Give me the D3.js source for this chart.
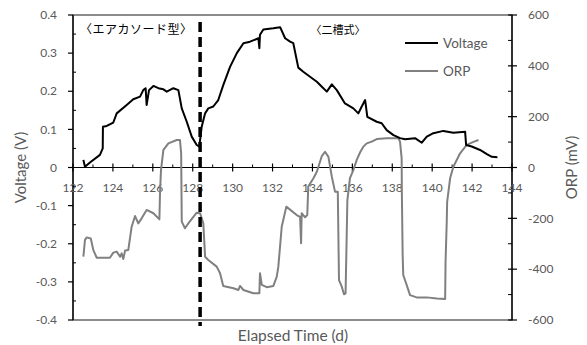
<!DOCTYPE html>
<html>
<head>
<meta charset="utf-8">
<script src="https://cdn.jsdelivr.net/npm/d3@7"></script>
<style>
  html, body { margin: 0; padding: 0; background: #fff; }
  svg { display: block; }
  text { font-family: Lato, "Open Sans", sans-serif; fill: #595959; }
  .jp { font-family: "Noto Sans CJK JP", sans-serif; fill: #000; }
</style>
</head>
<body>
<svg id="chart" width="587" height="345"></svg>
<script>
// Elapsed time (days) and cell voltage (V)
const voltageDays = [122.52, 122.60, 122.85, 123.35, 123.49, 123.50, 123.69, 124.02, 124.19, 124.69,
  125.02, 125.36, 125.52, 125.64, 125.69, 125.81, 126.03, 126.28, 126.53, 126.70,
  127.03, 127.28, 127.45, 127.70, 127.95, 128.20, 128.33, 128.45, 128.62, 128.78,
  129.03, 129.28, 129.53, 129.87, 130.21, 130.54, 130.87, 131.29, 131.34, 131.37,
  131.54, 132.04, 132.38, 132.63, 132.88, 133.04, 133.29, 133.54, 134.22, 134.47,
  134.72, 134.97, 135.22, 135.63, 136.05, 136.30, 136.47, 136.64, 136.75, 137.22,
  137.47, 137.72, 138.06, 138.39, 138.64, 139.14, 139.48, 139.73, 140.06, 140.56,
  141.06, 141.65, 141.70, 141.98, 142.40, 142.74, 142.99, 143.27];
const voltageValues = [0.020, 0.002, 0.013, 0.033, 0.050, 0.107, 0.109, 0.118, 0.142, 0.164,
  0.179, 0.186, 0.203, 0.208, 0.164, 0.203, 0.214, 0.208, 0.205, 0.199,
  0.208, 0.203, 0.155, 0.120, 0.081, 0.059, 0.055, 0.107, 0.142, 0.155,
  0.160, 0.177, 0.216, 0.264, 0.300, 0.326, 0.330, 0.339, 0.313, 0.348,
  0.362, 0.365, 0.368, 0.339, 0.330, 0.326, 0.262, 0.251, 0.225, 0.212,
  0.199, 0.218, 0.203, 0.168, 0.155, 0.142, 0.160, 0.177, 0.133, 0.120,
  0.116, 0.098, 0.085, 0.077, 0.074, 0.077, 0.065, 0.081, 0.090, 0.096,
  0.091, 0.094, 0.059, 0.055, 0.046, 0.035, 0.028, 0.027];

// Elapsed time (days) and oxidation-reduction potential (mV)
const orpDays = [122.52, 122.60, 122.69, 122.89, 123.02, 123.19, 123.85, 124.02, 124.19, 124.36,
  124.44, 124.52, 124.61, 124.77, 124.94, 125.11, 125.27, 125.44, 125.69, 126.03,
  126.33, 126.36, 126.41, 126.53, 126.78, 127.20, 127.36, 127.42, 127.45, 127.61,
  127.78, 128.20, 128.37, 128.53, 128.62, 128.78, 129.20, 129.37, 129.53, 130.04,
  130.29, 130.37, 130.54, 131.04, 131.34, 131.37, 131.46, 131.71, 132.04, 132.21,
  132.29, 132.46, 132.69, 133.21, 133.38, 133.43, 133.46, 133.63, 133.74, 133.79,
  134.05, 134.22, 134.47, 134.63, 134.80, 134.97, 135.13, 135.27, 135.33, 135.47,
  135.58, 135.66, 135.75, 135.88, 136.05, 136.22, 136.39, 136.55, 136.72, 136.97,
  137.22, 137.72, 138.31, 138.39, 138.47, 138.48, 138.52, 138.55, 138.72, 138.89,
  139.22, 139.73, 140.23, 140.65, 140.67, 140.73, 140.75, 140.90, 141.06, 141.40,
  141.73, 142.07, 142.32];
const orpValues = [-351, -285, -275, -279, -325, -355, -355, -335, -331, -351,
  -338, -360, -327, -325, -233, -191, -220, -200, -167, -180,
  -204, -101, -10, 69, 95, 108, 108, 56, -213, -239,
  -220, -178, -180, -220, -351, -364, -390, -416, -466, -475,
  -482, -466, -482, -495, -495, -416, -462, -471, -466, -430,
  -390, -233, -154, -187, -194, -298, -180, -196, -187, -75,
  -42, -17, 45, 62, 42, -36, -95, -95, -443, -469,
  -499, -495, -128, -42, -10, 30, 60, 82, 95, 102,
  112, 115, 115, 101, 36, -95, -344, -423, -462, -502,
  -511, -511, -515, -517, -371, -213, -135, -42, 3, 56,
  89, 101, 108];

// Day separating the two reactor configurations
const dividerDay = 128.37;
const phaseLabels = ["〈エアカソード型〉", "〈二槽式〉"];
const phaseStartDays = [122.35, 133.9];
const phaseLabelSizes = [12, 11];

// Axis ticks
const xTicks = [122, 124, 126, 128, 130, 132, 134, 136, 138, 140, 142, 144];
const xMinorTicks = d3.range(123, 144, 2);
const voltageTicks = [0.4, 0.3, 0.2, 0.1, 0, -0.1, -0.2, -0.3, -0.4];
const voltageMinorTicks = [0.35, 0.25, 0.15, 0.05, -0.05, -0.15, -0.25, -0.35];
const orpTicks = [600, 400, 200, 0, -200, -400, -600];
const orpMinorTicks = [500, 300, 100, -100, -300, -500];

const seriesNames = ["Voltage", "ORP"];
const seriesColors = ["#000000", "#808080"];

const svg = d3.select("#chart");
const plot = { left: 73, right: 512, top: 15, bottom: 320 };

const x = d3.scaleLinear().domain([122, 144]).range([plot.left, plot.right]);
const yV = d3.scaleLinear().domain([-0.4, 0.4]).range([plot.bottom, plot.top]);
const yO = d3.scaleLinear().domain([-600, 600]).range([plot.bottom, plot.top]);

// Plot frame
svg.append("rect")
  .attr("x", plot.left).attr("y", plot.top)
  .attr("width", plot.right - plot.left).attr("height", plot.bottom - plot.top)
  .attr("fill", "none").attr("stroke", "#404040").attr("stroke-width", 1.2);

// Left (voltage) axis
const leftAxis = svg.append("g");
leftAxis.append("line")
  .attr("x1", plot.left).attr("x2", plot.left)
  .attr("y1", plot.top).attr("y2", plot.bottom)
  .attr("stroke", "#000").attr("stroke-width", 1.3);
leftAxis.selectAll("line.major").data(voltageTicks).join("line")
  .attr("class", "major")
  .attr("x1", plot.left - 5).attr("x2", plot.left)
  .attr("y1", d => yV(d)).attr("y2", d => yV(d))
  .attr("stroke", "#000").attr("stroke-width", 1.2);
leftAxis.selectAll("line.minor").data(voltageMinorTicks).join("line")
  .attr("class", "minor")
  .attr("x1", plot.left).attr("x2", plot.left + 3)
  .attr("y1", d => yV(d)).attr("y2", d => yV(d))
  .attr("stroke", "#000").attr("stroke-width", 1);
leftAxis.selectAll("text").data(voltageTicks).join("text")
  .attr("x", 57).attr("y", d => yV(d))
  .attr("dy", "0.35em").attr("text-anchor", "end")
  .attr("font-size", 12)
  .text(d => d === 0 ? "0" : d3.format(".1f")(d).replace("−", "-"));

// Right (ORP) axis
const rightAxis = svg.append("g");
rightAxis.append("line")
  .attr("x1", plot.right).attr("x2", plot.right)
  .attr("y1", plot.top).attr("y2", plot.bottom)
  .attr("stroke", "#000").attr("stroke-width", 1.3);
rightAxis.selectAll("line.major").data(orpTicks).join("line")
  .attr("class", "major")
  .attr("x1", plot.right - 4).attr("x2", plot.right + 5)
  .attr("y1", d => yO(d)).attr("y2", d => yO(d))
  .attr("stroke", "#000").attr("stroke-width", 1.2);
rightAxis.selectAll("line.minor").data(orpMinorTicks).join("line")
  .attr("class", "minor")
  .attr("x1", plot.right - 4).attr("x2", plot.right)
  .attr("y1", d => yO(d)).attr("y2", d => yO(d))
  .attr("stroke", "#000").attr("stroke-width", 1);
rightAxis.selectAll("text").data(orpTicks).join("text")
  .attr("x", 528).attr("y", d => yO(d))
  .attr("dy", "0.35em").attr("text-anchor", "start")
  .attr("font-size", 12)
  .text(d => String(d));

// Time axis along V = 0
const zeroY = yV(0);
const timeAxis = svg.append("g");
timeAxis.append("line")
  .attr("x1", plot.left).attr("x2", plot.right)
  .attr("y1", zeroY).attr("y2", zeroY)
  .attr("stroke", "#000").attr("stroke-width", 1.2);
timeAxis.selectAll("line.major").data(xTicks).join("line")
  .attr("class", "major")
  .attr("x1", d => x(d)).attr("x2", d => x(d))
  .attr("y1", zeroY - 4).attr("y2", zeroY + 4)
  .attr("stroke", "#000").attr("stroke-width", 1.2);
timeAxis.selectAll("line.minor").data(xMinorTicks).join("line")
  .attr("class", "minor")
  .attr("x1", d => x(d)).attr("x2", d => x(d))
  .attr("y1", zeroY - 3).attr("y2", zeroY)
  .attr("stroke", "#000").attr("stroke-width", 1);
timeAxis.selectAll("text").data(xTicks).join("text")
  .attr("x", d => x(d)).attr("y", zeroY + 20)
  .attr("dy", "0.35em").attr("text-anchor", "middle")
  .attr("font-size", 12)
  .text(d => String(d));

// Axis titles
svg.append("text")
  .attr("transform", `translate(21,${(plot.top + plot.bottom) / 2}) rotate(-90)`)
  .attr("text-anchor", "middle").attr("dy", "0.35em")
  .attr("font-size", 15).text("Voltage (V)");
svg.append("text")
  .attr("transform", `translate(572,${(plot.top + plot.bottom) / 2}) rotate(-90)`)
  .attr("text-anchor", "middle").attr("dy", "0.35em")
  .attr("font-size", 15).text("ORP (mV)");
svg.append("text")
  .attr("x", 293).attr("y", 336)
  .attr("text-anchor", "middle").attr("dy", "0.35em")
  .attr("font-size", 15.5).text("Elapsed Time (d)");

// Data series
const voltagePoints = voltageDays.map((d, i) => [d, voltageValues[i]]);
const orpPoints = orpDays.map((d, i) => [d, orpValues[i]]);

svg.append("path")
  .datum(orpPoints)
  .attr("fill", "none").attr("stroke", seriesColors[1])
  .attr("stroke-width", 2).attr("stroke-linejoin", "round")
  .attr("d", d3.line().x(d => x(d[0])).y(d => yO(d[1])));

svg.append("path")
  .datum(voltagePoints)
  .attr("fill", "none").attr("stroke", seriesColors[0])
  .attr("stroke-width", 2).attr("stroke-linejoin", "round")
  .attr("d", d3.line().x(d => x(d[0])).y(d => yV(d[1])));

// Divider between the two configurations
svg.append("line")
  .attr("x1", x(dividerDay)).attr("x2", x(dividerDay))
  .attr("y1", 22).attr("y2", 326)
  .attr("stroke", "#000").attr("stroke-width", 3.5)
  .attr("stroke-dasharray", "10,5");

// Phase labels
svg.selectAll("text.jp").data(phaseLabels).join("text")
  .attr("class", "jp")
  .attr("x", (d, i) => x(phaseStartDays[i])).attr("y", 30)
  .attr("dy", "0.35em")
  .attr("font-size", (d, i) => phaseLabelSizes[i])
  .attr("letter-spacing", (d, i) => i === 0 ? 0.5 : 0)
  .text(d => d);

// Legend
const legend = svg.append("g");
seriesNames.forEach((name, i) => {
  const ly = 43 + i * 28;
  legend.append("line")
    .attr("x1", 405).attr("x2", 438).attr("y1", ly).attr("y2", ly)
    .attr("stroke", seriesColors[i]).attr("stroke-width", 2);
  legend.append("text")
    .attr("x", 443).attr("y", ly).attr("dy", "0.35em")
    .attr("font-size", 13.5).text(name);
});
</script>
</body>
</html>
